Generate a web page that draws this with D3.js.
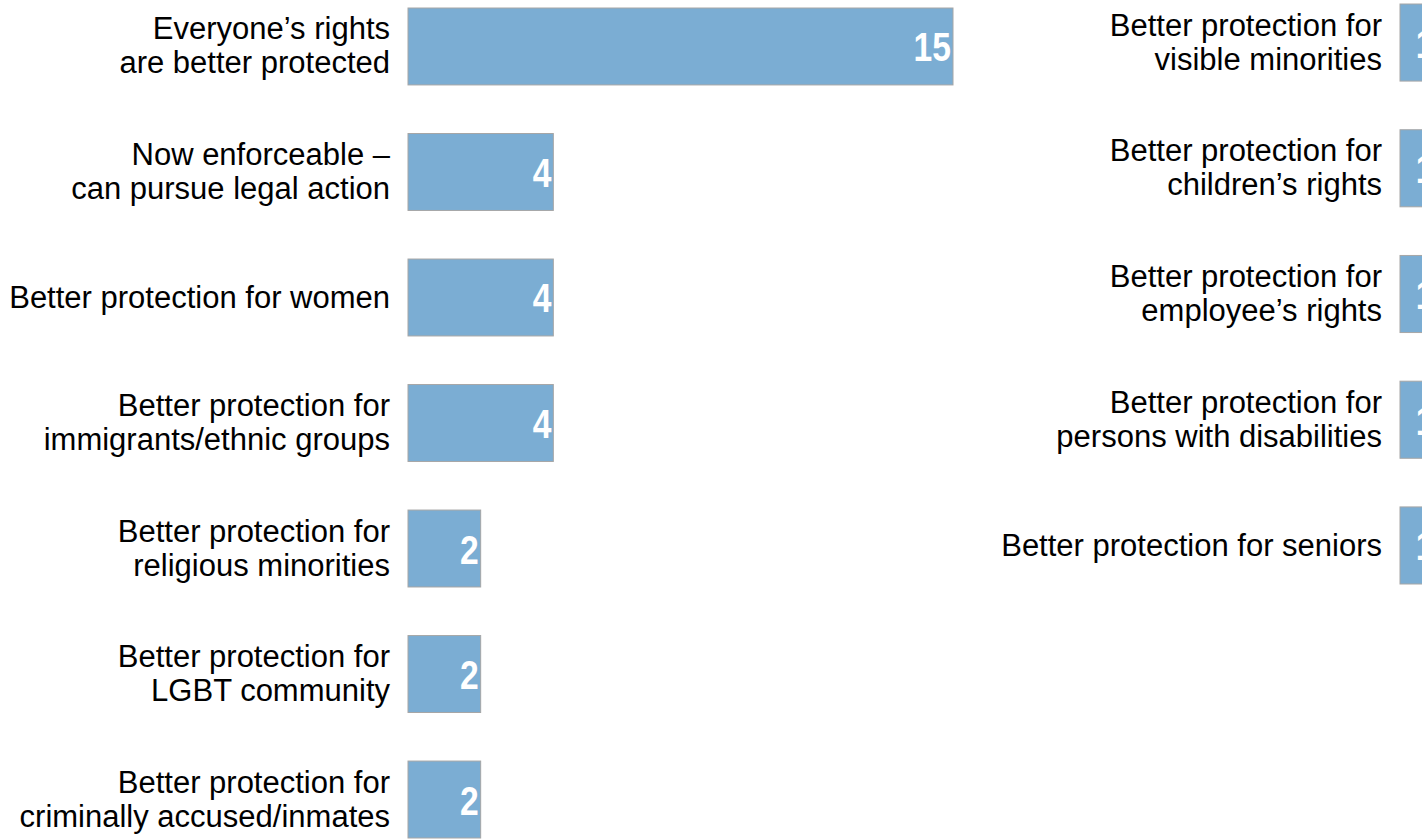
<!DOCTYPE html>
<html>
<head>
<meta charset="utf-8">
<script src="https://cdn.jsdelivr.net/npm/d3@7/dist/d3.min.js"></script>
<style>
  html, body { margin: 0; padding: 0; background: #ffffff; overflow: hidden; }
  svg { display: block; }
  .cat { font-family: "Liberation Sans", Arial, sans-serif; font-size: 31px; fill: #000; }
  .val { font-family: "Liberation Sans", Arial, sans-serif; font-size: 41px; font-weight: bold; fill: #ffffff; }
</style>
</head>
<body>
<svg id="chart" width="1422" height="840"></svg>
<script>
// Reasons given, left column (label lines and counts)
const leftLabels = [
  ["Everyone’s rights", "are better protected"],
  ["Now enforceable –", "can pursue legal action"],
  ["Better protection for women"],
  ["Better protection for", "immigrants/ethnic groups"],
  ["Better protection for", "religious minorities"],
  ["Better protection for", "LGBT community"],
  ["Better protection for", "criminally accused/inmates"]
];
const leftValues = [15, 4, 4, 4, 2, 2, 2];

// Reasons given, right column
const rightLabels = [
  ["Better protection for", "visible minorities"],
  ["Better protection for", "children’s rights"],
  ["Better protection for", "employee’s rights"],
  ["Better protection for", "persons with disabilities"],
  ["Better protection for seniors"]
];
const rightValues = [1, 1, 1, 1, 1];

const svg = d3.select("#chart");
const barFill = "#7badd3";
const barStroke = "#a6a6a6";

function drawPanel(labels, values, opts) {
  const data = labels.map((l, i) => ({ id: i, lines: l, value: values[i] }));

  const x = d3.scaleLinear().domain([0, 15]).range([opts.x0, opts.x0 + 545]);
  const y = d3.scaleBand()
    .domain(data.map(d => d.id))
    .range([opts.yTop, opts.yBottom])
    .paddingInner(0.387)
    .paddingOuter(0);

  const g = svg.append("g");

  // bars
  g.selectAll("rect.bar")
    .data(data)
    .join("rect")
    .attr("class", "bar")
    .attr("x", x(0))
    .attr("y", d => y(d.id))
    .attr("width", d => x(d.value) - x(0))
    .attr("height", y.bandwidth())
    .attr("fill", barFill)
    .attr("stroke", barStroke)
    .attr("stroke-width", 1);

  // value labels, right-aligned inside each bar, condensed bold
  g.selectAll("text.val")
    .data(data)
    .join("text")
    .attr("class", "val")
    .attr("text-anchor", "end")
    .attr("transform", d => {
      const cx = x(d.value) - 2;
      const cy = y(d.id) + y.bandwidth() / 2 + 15;
      return `translate(${cx},${cy}) scale(0.82,1)`;
    })
    .text(d => d.value);

  // category labels, right-aligned to the left of the bars
  const labelX = x(0) - opts.labelGap;
  const cats = g.selectAll("text.cat")
    .data(data)
    .join("text")
    .attr("class", "cat")
    .attr("text-anchor", "end");

  cats.each(function (d) {
    const t = d3.select(this);
    const mid = y(d.id) + y.bandwidth() / 2;
    if (d.lines.length === 1) {
      t.append("tspan").attr("x", labelX).attr("y", mid + 11).text(d.lines[0]);
    } else {
      t.append("tspan").attr("x", labelX).attr("y", mid - 7).text(d.lines[0]);
      t.append("tspan").attr("x", labelX).attr("y", mid + 27).text(d.lines[1]);
    }
  });
}

drawPanel(leftLabels, leftValues, { x0: 408, yTop: 8, yBottom: 838, labelGap: 18 });
drawPanel(rightLabels, rightValues, { x0: 1400, yTop: 4, yBottom: 584, labelGap: 18 });
</script>
</body>
</html>
